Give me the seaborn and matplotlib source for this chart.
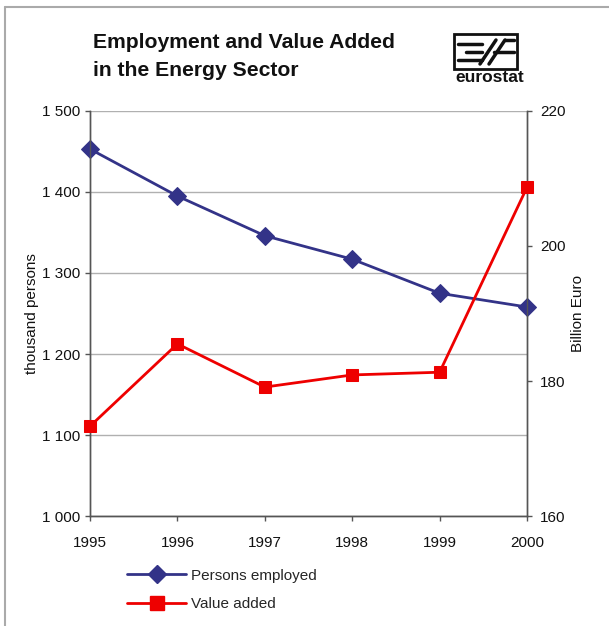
import matplotlib
matplotlib.use("Agg")
import matplotlib.pyplot as plt
import seaborn as sns
import pandas as pd
from matplotlib.lines import Line2D
from matplotlib.patches import Rectangle

years = [1995, 1996, 1997, 1998, 1999, 2000]
persons_employed = [1453, 1395, 1346, 1317, 1275, 1258]
value_added = [173.3, 185.5, 179.1, 180.9, 181.3, 208.7]
left_ticks = [1000, 1100, 1200, 1300, 1400, 1500]
left_labels = ["1 000", "1 100", "1 200", "1 300", "1 400", "1 500"]
right_ticks = [160, 180, 200, 220]

sns.set_theme(style="white")
plt.rcParams['font.family'] = ['Liberation Sans', 'DejaVu Sans']

df = pd.DataFrame({"year": years, "persons": persons_employed, "value": value_added})

fig = plt.figure(figsize=(6.09, 6.26), dpi=100)
ax = fig.add_axes([0.1478, 0.1757, 0.7176, 0.647])
ax2 = ax.twinx()

blue = "#333388"
red = "#ee0000"

sns.lineplot(data=df, x="year", y="persons", ax=ax, color=blue, marker="D",
             markersize=9, markeredgecolor=blue, linewidth=2, zorder=3, clip_on=False)
sns.lineplot(data=df, x="year", y="value", ax=ax2, color=red, marker="s",
             markersize=9, markeredgecolor=red, linewidth=2, zorder=3, clip_on=False)

ax.set_xlim(1995, 2000)
ax.set_ylim(1000, 1500)
ax2.set_ylim(160, 220)
ax.set_yticks(left_ticks)
ax.set_yticklabels(left_labels)
ax2.set_yticks(right_ticks)
ax.set_xticks(years)
ax.set_xticklabels([str(y) for y in years])

ax.grid(axis="y", color="#b0b0b0", linewidth=1)
ax.grid(axis="x", visible=False)
ax2.grid(False)

for a in (ax, ax2):
    a.spines["top"].set_visible(False)
    for s in ("left", "right", "bottom"):
        a.spines[s].set_color("#555555")
        a.spines[s].set_linewidth(1)

ax.tick_params(axis="y", which="major", direction="out", length=3.6, width=1,
               color="#555555", labelsize=11, labelcolor="#111111", left=True, pad=3.6)
ax.tick_params(axis="x", which="major", direction="out", length=3.6, width=1,
               color="#555555", labelsize=11, labelcolor="#111111", bottom=True, pad=10.5)
ax2.tick_params(axis="y", direction="out", length=3.6, width=1, color="#555555",
                labelsize=11, labelcolor="#111111", right=True, pad=5.8)

ax.set_xlabel("")
ax.set_ylabel("thousand persons", fontsize=11, color="#111111", labelpad=2)
ax2.set_ylabel("Billion Euro", fontsize=11, color="#111111", labelpad=4)

# Title
fig.text(93/609, 1 - 43/626, "Employment and Value Added", fontsize=15.2,
         fontweight="bold", va="center", ha="left", color="#111111")
fig.text(93/609, 1 - 70/626, "in the Energy Sector", fontsize=15.2,
         fontweight="bold", va="center", ha="left", color="#111111")

# Logo (eurostat)
lx0, ly0, lw, lh = 454/609, 1 - 69/626, 63/609, 35/626
fig.add_artist(Rectangle((lx0, ly0), lw, lh, transform=fig.transFigure,
                         fill=False, edgecolor="#111111", linewidth=2))
def fl(x1, y1, x2, y2, lw_=2.5):
    fig.add_artist(Line2D([x1/609, x2/609], [1 - y1/626, 1 - y2/626],
                          transform=fig.transFigure, color="#111111", linewidth=lw_))
fl(458, 44, 482, 44)
fl(466, 52, 482, 52)
fl(458, 60, 482, 60)
fl(480, 64, 496, 40)
fl(489, 64, 505, 40)
fl(494, 52, 514, 52)
fl(505, 40, 514, 40)
fig.text(490/609, 1 - 78/626, "eurostat", fontsize=12.5, fontweight="bold",
         ha="center", va="center", color="#111111")

# Legend
handles = [
    Line2D([0], [0], color=blue, marker="D", markersize=9, linewidth=2),
    Line2D([0], [0], color=red, marker="s", markersize=10, linewidth=2),
]
fig.legend(handles, ["Persons employed", "Value added"], loc="upper left",
           bbox_to_anchor=(113/609, 1 - 555/626), frameon=False, fontsize=11,
           handlelength=3.9, labelspacing=0.95, handletextpad=0.3)

# Frame border
fig.add_artist(Line2D([5/609, 5/609], [0, 1 - 7/626], transform=fig.transFigure,
                      color="#aaaaaa", linewidth=1.5))
fig.add_artist(Line2D([5/609, 1], [1 - 7/626, 1 - 7/626], transform=fig.transFigure,
                      color="#aaaaaa", linewidth=1.5))

fig.savefig("out.png", dpi=100)
